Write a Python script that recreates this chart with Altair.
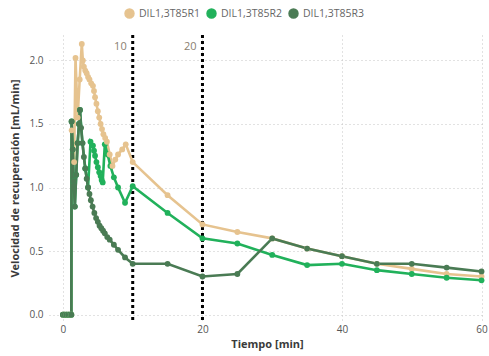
import altair as alt
import pandas as pd

series_names = ["DIL1,3T85R1", "DIL1,3T85R2", "DIL1,3T85R3"]
series_colors = ["#E6C38F", "#21B15B", "#4A7B54"]

t_r1 = [0, 0.25, 0.5, 0.75, 1.0, 1.2, 1.25, 1.6, 1.8, 2.1, 2.4, 2.7, 2.85, 3.0, 3.2, 3.4, 3.6, 3.8,
        4.05, 4.3, 4.45, 4.6, 4.8, 5.0, 5.2, 5.4, 5.6, 5.8, 6.05, 6.3, 6.7, 7.1, 7.5, 7.9, 8.5, 9.0,
        10, 15, 20, 25, 30, 35, 40, 45, 50, 55, 60]
v_r1 = [0, 0, 0, 0, 0, 0, 1.45, 1.2, 2.02, 1.55, 1.85, 2.13, 2.0, 1.95, 1.92, 1.9, 1.87, 1.85,
        1.82, 1.8, 1.76, 1.71, 1.66, 1.6, 1.55, 1.5, 1.46, 1.42, 1.39, 1.36, 1.26, 1.17, 1.22, 1.26, 1.3, 1.34,
        1.20, 0.94, 0.71, 0.65, 0.60, 0.52, 0.46, 0.40, 0.36, 0.32, 0.30]

t_r2 = [0, 0.25, 0.5, 0.75, 1.0, 1.2, 1.24, 1.4, 1.55, 1.7, 1.9, 2.1, 2.3, 2.44, 2.8, 3.2, 3.6,
        3.95, 4.3, 4.45, 4.6, 4.8, 5.0, 5.2, 5.4, 5.55, 5.7, 6.0, 6.4, 6.8, 7.3, 7.9, 8.9,
        10, 15, 20, 25, 30, 35, 40, 45, 50, 55, 60]
v_r2 = [0, 0, 0, 0, 0, 0, 1.52, 1.3, 1.05, 0.85, 1.1, 1.35, 1.5, 1.61, 1.35, 1.15, 1.0,
        1.36, 1.33, 1.29, 1.25, 1.2, 1.16, 1.12, 1.09, 1.06, 1.04, 1.34, 1.26, 1.17, 1.08, 1.0, 0.88,
        1.01, 0.80, 0.60, 0.56, 0.47, 0.39, 0.40, 0.35, 0.32, 0.29, 0.27]

t_r3 = [0, 0.25, 0.5, 0.75, 1.0, 1.2, 1.24, 1.4, 1.55, 1.7, 1.9, 2.1, 2.3, 2.44, 2.6, 2.8, 3.0,
        3.2, 3.4, 3.6, 3.8, 4.0, 4.25, 4.5, 4.75, 5.0, 5.25, 5.5, 5.75, 6.0, 6.35, 6.7, 7.3, 7.9,
        8.9, 10, 15, 20, 25, 30, 35, 40, 45, 50, 55, 60]
v_r3 = [0, 0, 0, 0, 0, 0, 1.52, 1.3, 1.05, 0.85, 1.1, 1.35, 1.5, 1.61, 1.47, 1.35, 1.24,
        1.15, 1.07, 1.0, 0.95, 0.9, 0.85, 0.8, 0.76, 0.73, 0.7, 0.68, 0.66, 0.64, 0.61, 0.59, 0.55, 0.51,
        0.45, 0.40, 0.40, 0.30, 0.32, 0.60, 0.52, 0.46, 0.40, 0.40, 0.37, 0.34]

marker_times = [10, 20]
marker_labels = ["10", "20"]

rows = []
for name, ts, vs in zip(series_names, [t_r1, t_r2, t_r3], [v_r1, v_r2, v_r3]):
    for t, v in zip(ts, vs):
        rows.append({"serie": name, "t": t, "v": v})
df = pd.DataFrame(rows)
marks_df = pd.DataFrame({"t": marker_times, "lab": marker_labels})

FONT = "Open Sans"

xscale = alt.Scale(domain=[-2, 60.5], nice=False, zero=False)
yscale = alt.Scale(domain=[-0.05, 2.2], nice=False, zero=False)

lines = alt.Chart(df).mark_line(strokeWidth=2.6, point=alt.OverlayMarkDef(filled=True, size=34)).encode(
    x=alt.X("t:Q", scale=xscale,
            axis=alt.Axis(values=[0, 20, 40, 60], title="Tiempo [min]", labelPadding=3)),
    y=alt.Y("v:Q", scale=yscale,
            axis=alt.Axis(values=[0, 0.5, 1.0, 1.5, 2.0], format=".1f",
                          title="Velocidad de recuperación [mL/min]", labelPadding=6, titlePadding=8)),
    color=alt.Color("serie:N", scale=alt.Scale(domain=series_names, range=series_colors),
                    legend=alt.Legend(title=None, orient="none", legendX=75, legendY=-27,
                                      direction="horizontal", symbolType="circle", symbolSize=80,
                                      labelFontSize=10.5, labelColor="#666666", labelFont=FONT,
                                      columnPadding=3, symbolOpacity=1)),
    order=alt.Order("t:Q"),
)

rules = alt.Chart(marks_df).mark_rule(color="black", strokeWidth=3, strokeDash=[3, 3]).encode(
    x=alt.X("t:Q", scale=xscale),
)

labels = alt.Chart(marks_df).mark_text(align="right", baseline="middle", dx=-6, fontSize=11,
                                       color="#8a8070", font=FONT).encode(
    x=alt.X("t:Q", scale=xscale),
    y=alt.value(12),
    text="lab:N",
)

chart = alt.layer(rules, lines, labels).properties(
    width=436, height=286,
    autosize=alt.AutoSizeParams(type="none"),
    padding={"left": 49, "top": 35, "right": 4, "bottom": 35},
    background="white",
).configure_view(stroke=None).configure_axis(
    domain=False, ticks=False, grid=True, gridColor="#c4c4c4", gridDash=[1, 3], gridWidth=1,
    labelFont=FONT, labelFontSize=10, labelColor="#555555",
    titleFont=FONT, titleFontSize=11, titleFontWeight="bold", titleColor="#3a3a3a",
)

chart.save("out.html", embed_options={"renderer": "svg", "actions": False})
